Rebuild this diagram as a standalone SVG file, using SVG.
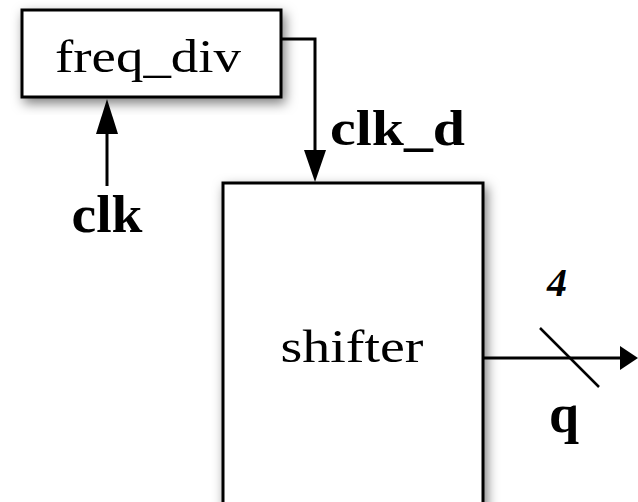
<svg xmlns="http://www.w3.org/2000/svg" width="638" height="502" viewBox="0 0 638 502">
<defs>
<filter id="sh" x="-20%" y="-20%" width="140%" height="140%">
<feDropShadow dx="3" dy="5" stdDeviation="6" flood-color="#000" flood-opacity="0.5"/>
</filter>
</defs>
<style>
.box{fill:#fff;stroke:#000;stroke-width:3}
.wire{fill:none;stroke:#000;stroke-width:3}
.lbl{font-family:"Liberation Serif","DejaVu Serif",serif;fill:#000}
.b{font-weight:bold}
</style>
<g id="freq_div">
<rect class="box" x="22" y="10" width="259" height="87" filter="url(#sh)"/>
<text class="lbl" x="148" y="72" font-size="46" text-anchor="middle" textLength="186" lengthAdjust="spacingAndGlyphs">freq_div</text>
</g>
<g id="shifter">
<rect class="box" x="223" y="183" width="260" height="330" filter="url(#sh)"/>
<text class="lbl" x="352" y="362" font-size="46" text-anchor="middle" textLength="143" lengthAdjust="spacingAndGlyphs">shifter</text>
</g>
<g id="connectors">
<polyline class="wire" points="281,39 315,39 315,152"/>
<path d="M304,150 L326,150 L315,182 z" fill="#000"/>
<line class="wire" x1="107" y1="186" x2="107" y2="132"/>
<path d="M96,134 L118,134 L107,99 z" fill="#000"/>
<line class="wire" x1="483" y1="358" x2="622" y2="358"/>
<path d="M620,346 L638,358 L620,370 z" fill="#000"/>
<line x1="540" y1="328" x2="599" y2="387" stroke="#000" stroke-width="2.5"/>
</g>
<g id="labels">
<text class="lbl b" x="107" y="232" font-size="52" text-anchor="middle" textLength="71" lengthAdjust="spacingAndGlyphs">clk</text>
<text class="lbl b" x="330" y="145" font-size="50" textLength="135" lengthAdjust="spacingAndGlyphs">clk_d</text>
<text class="lbl b" x="557" y="296" font-size="40" font-style="italic" text-anchor="middle">4</text>
<text class="lbl b" x="564" y="432" font-size="54" text-anchor="middle">q</text>
</g>
</svg>
